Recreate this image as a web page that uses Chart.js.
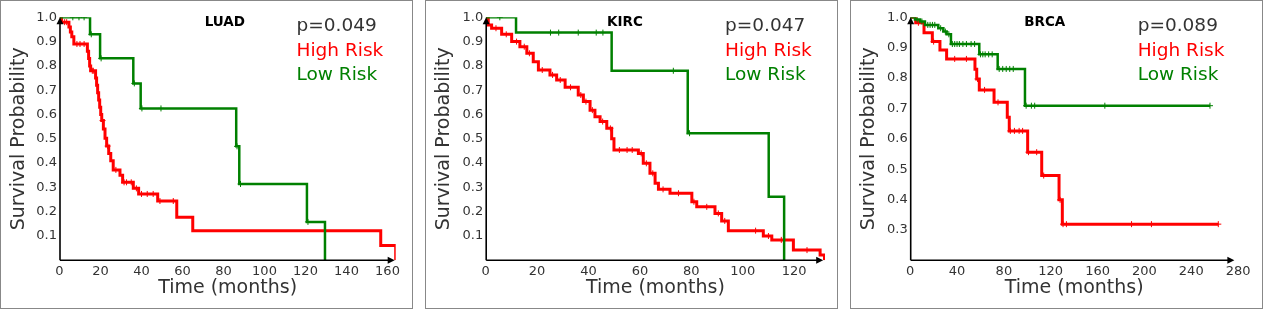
<!DOCTYPE html>
<html>
<head>
<meta charset="utf-8">
<script src="https://cdn.jsdelivr.net/npm/chart.js@4/dist/chart.umd.min.js"></script>
<style>
  body { margin: 0; background: #fff; width: 1264px; height: 310px; position: relative; overflow: hidden; }
  .panel { position: absolute; top: 0; width: 413px; height: 309px; box-sizing: border-box; border: 1px solid #888; }
  .panel canvas { display: block; }
</style>
</head>
<body>
<div class="panel" style="left:0"><canvas id="luad" width="411" height="307"></canvas></div>
<div class="panel" style="left:425px"><canvas id="kirc" width="411" height="307"></canvas></div>
<div class="panel" style="left:850px"><canvas id="brca" width="411" height="307"></canvas></div>
<script>
// LUAD
const luadHighTime = [0, 1, 4.6, 5.3, 6.0, 7.0, 13.6, 14.2, 14.7, 15.2, 17.6, 18.1, 18.6, 19.1, 19.6, 20.1, 20.6, 21.4, 22.2, 23.0, 24.0, 25.0, 26.2, 29.5, 30.8, 36.0, 38.6, 47.9, 57.2, 65.0, 156.7, 164.0];
const luadHighSurv = [1, 0.98, 0.96, 0.94, 0.92, 0.89, 0.86, 0.83, 0.80, 0.78, 0.75, 0.72, 0.69, 0.66, 0.63, 0.60, 0.575, 0.54, 0.502, 0.47, 0.44, 0.41, 0.372, 0.35, 0.321, 0.296, 0.273, 0.244, 0.177, 0.122, 0.061, 0];
const luadHighCensor = [2.5, 3.5, 8.5, 10, 12, 16, 16.5, 21, 23.5, 27.5, 31.5, 32.7, 35, 37.5, 40, 42.8, 45.7, 49, 55.5];
const luadLowTime = [0, 14.9, 19.8, 36.0, 39.6, 86.2, 87.7, 120.7, 129.5];
const luadLowSurv = [1, 0.93, 0.831, 0.728, 0.625, 0.469, 0.314, 0.158, 0];
const luadLowCensor = [6.5, 9.5, 12, 15.5, 20.3, 36.5, 40.2, 49.5, 86.6, 88.3, 121.2];

// KIRC
const kircHighTime = [0, 1.0, 2.3, 6.2, 10.1, 13.3, 16.0, 18.5, 20.5, 25.0, 27.6, 30.9, 36.0, 38.0, 40.6, 42.5, 44.5, 47.1, 49.0, 49.9, 59.4, 61.3, 63.9, 65.9, 67.2, 71.7, 80.2, 82.1, 89.2, 91.8, 94.4, 108.0, 111.3, 119.7, 130.1, 131.8];
const kircHighSurv = [1, 0.968, 0.955, 0.93, 0.9, 0.879, 0.852, 0.817, 0.783, 0.763, 0.742, 0.712, 0.68, 0.653, 0.618, 0.591, 0.571, 0.543, 0.5, 0.454, 0.44, 0.399, 0.358, 0.317, 0.292, 0.276, 0.241, 0.22, 0.193, 0.162, 0.122, 0.1, 0.084, 0.042, 0.022, 0];
const kircHighCensor = [4, 8, 12, 15, 17, 22, 26, 29, 33, 37, 39, 41.5, 45.5, 48.5, 52, 55, 57, 60.5, 62.5, 65, 69, 75, 81, 86, 90.5, 93, 105, 110, 115, 125];
const kircLowTime = [0, 11.8, 49.0, 78.6, 110.1, 116.1];
const kircLowSurv = [1, 0.937, 0.78, 0.523, 0.262, 0];
const kircLowCensor = [5.5, 25.2, 28.4, 36, 43, 45.6, 73, 79.3];

// BRCA
const brcaHighTime = [0, 4.7, 11.8, 18.9, 25.4, 31.1, 55.3, 56.8, 59.0, 71.6, 82.9, 84.6, 100.3, 112.3, 127.1, 129.9, 263.1];
const brcaHighSurv = [1, 0.982, 0.949, 0.92, 0.892, 0.863, 0.829, 0.797, 0.761, 0.72, 0.671, 0.626, 0.556, 0.479, 0.399, 0.319, 0.319];
const brcaHighCensor = [7, 20, 38, 48, 57.5, 63.5, 75, 85.5, 89, 93, 96, 101, 108, 114, 128, 130.5, 133.4, 189, 206, 263.1];
const brcaLowTime = [0, 4.1, 8.4, 12.6, 24.0, 28.3, 31.1, 34.8, 59.0, 74.7, 98.0, 256.0];
const brcaLowSurv = [1, 0.993, 0.986, 0.975, 0.964, 0.953, 0.944, 0.912, 0.878, 0.83, 0.709, 0.709];
const brcaLowCensor = [6, 10, 15, 17, 19, 21, 26, 30, 33, 36, 38, 40, 42, 45, 48, 52, 55, 60, 62, 64, 67, 70, 76, 79, 82, 85, 88, 99, 103.5, 106.3, 166.2, 256];

// ticks
const luadXTicks = [0, 20, 40, 60, 80, 100, 120, 140, 160];
const kircXTicks = [0, 20, 40, 60, 80, 100, 120];
const brcaXTicks = [0, 40, 80, 120, 160, 200, 240, 280];
const fullYTicks = [0.1, 0.2, 0.3, 0.4, 0.5, 0.6, 0.7, 0.8, 0.9, 1.0];
const brcaYTicks = [0.3, 0.4, 0.5, 0.6, 0.7, 0.8, 0.9, 1.0];

const RED = '#ff0000';
const GREEN = '#008000';
const FONT = 'DejaVu Sans';

function survAt(times, surv, t) {
  let s = surv[0];
  for (let i = 0; i < times.length; i++) {
    if (times[i] <= t) s = surv[i];
  }
  return s;
}

const axesArrows = {
  id: 'axesArrows',
  afterDatasetsDraw(chart, args, o) {
    const ctx = chart.ctx;
    const a = chart.chartArea;
    const x0 = a.left + 0.5;
    const y0 = a.bottom;
    const xTip = chart.scales.x.getPixelForValue(o.arrowAt);
    ctx.save();
    ctx.strokeStyle = '#000';
    ctx.fillStyle = '#000';
    ctx.lineWidth = 1.6;
    ctx.beginPath();
    ctx.moveTo(x0, y0);
    ctx.lineTo(x0, a.top + 5);
    ctx.moveTo(x0, y0);
    ctx.lineTo(xTip - 5, y0);
    ctx.stroke();
    ctx.beginPath();
    ctx.moveTo(x0, a.top);
    ctx.lineTo(x0 - 3.5, a.top + 7);
    ctx.lineTo(x0 + 3.5, a.top + 7);
    ctx.closePath();
    ctx.fill();
    ctx.beginPath();
    ctx.moveTo(xTip, y0);
    ctx.lineTo(xTip - 7, y0 - 3.5);
    ctx.lineTo(xTip - 7, y0 + 3.5);
    ctx.closePath();
    ctx.fill();
    ctx.restore();
  }
};

const panelText = {
  id: 'panelText',
  afterDraw(chart, args, o) {
    const ctx = chart.ctx;
    ctx.save();
    ctx.font = 'bold 13.5px "' + FONT + '"';
    ctx.fillStyle = '#000';
    ctx.textAlign = 'center';
    ctx.textBaseline = 'alphabetic';
    ctx.fillText(o.title, o.titleX, 25);
    ctx.font = '18.5px "' + FONT + '"';
    ctx.textAlign = 'left';
    ctx.fillStyle = '#333';
    ctx.fillText(o.pText, o.textX, 29.7);
    ctx.fillStyle = RED;
    ctx.fillText('High Risk', o.textX, 55);
    ctx.fillStyle = GREEN;
    ctx.fillText('Low Risk', o.textX, 79);
    ctx.restore();
  }
};

function makePanel(id, p) {
  const curve = (times, surv) => times.map((t, i) => ({ x: t, y: surv[i] }));
  const marks = (cens, times, surv) => cens.map(t => ({ x: t, y: survAt(times, surv, t) }));
  new Chart(document.getElementById(id), {
    type: 'scatter',
    data: {
      datasets: [
        { data: marks(p.lowC, p.lowT, p.lowS), pointStyle: 'cross', pointRadius: 3, borderColor: GREEN, borderWidth: 1, showLine: false },
        { data: curve(p.lowT, p.lowS), showLine: true, stepped: true, borderColor: GREEN, borderWidth: 2.5, pointRadius: 0 },
        { data: marks(p.highC, p.highT, p.highS), pointStyle: 'cross', pointRadius: 3, borderColor: RED, borderWidth: 1, showLine: false },
        { data: curve(p.highT, p.highS), showLine: true, stepped: true, borderColor: RED, borderWidth: 3, pointRadius: 0 }
      ]
    },
    options: {
      responsive: false,
      animation: false,
      layout: { padding: { top: 16.3, right: p.padRight, left: 0, bottom: 0 } },
      plugins: {
        legend: { display: false },
        tooltip: { enabled: false },
        axesArrows: { arrowAt: p.arrowAt },
        panelText: { title: p.title, pText: p.pText, titleX: p.titleX, textX: p.textX }
      },
      scales: {
        x: {
          type: 'linear', min: 0, max: p.xMax,
          grid: { display: false, drawTicks: false },
          border: { display: false },
          afterBuildTicks: s => { s.ticks = p.xTicks.map(v => ({ value: v })); },
          afterFit: s => { s.height = 47.7; },
          ticks: { color: '#333', font: { family: FONT, size: 13 }, padding: 4, maxRotation: 0, autoSkip: false },
          title: { display: true, text: 'Time (months)', color: '#333', font: { family: FONT, size: 19 }, padding: { top: 0, bottom: 9 } }
        },
        y: {
          type: 'linear', min: p.yMin, max: 1,
          grid: { display: false, drawTicks: false },
          border: { display: false },
          afterBuildTicks: s => { s.ticks = p.yTicks.map(v => ({ value: v })); },
          afterFit: s => { s.width = p.left; },
          ticks: { color: '#333', font: { family: FONT, size: 13 }, padding: 2.5, callback: v => v.toFixed(1) },
          title: { display: true, text: 'Survival Probability', color: '#333', font: { family: FONT, size: 19 }, padding: { top: 7, bottom: 0 } }
        }
      }
    },
    plugins: [axesArrows, panelText]
  });
}

makePanel('luad', {
  highT: luadHighTime, highS: luadHighSurv, highC: luadHighCensor,
  lowT: luadLowTime, lowS: luadLowSurv, lowC: luadLowCensor,
  xTicks: luadXTicks, yTicks: fullYTicks, xMax: 164, yMin: 0, arrowAt: 163.5,
  left: 58.5, padRight: 16.3, title: 'LUAD', pText: 'p=0.049', titleX: 223.8, textX: 295.5
});
makePanel('kirc', {
  highT: kircHighTime, highS: kircHighSurv, highC: kircHighCensor,
  lowT: kircLowTime, lowS: kircLowSurv, lowC: kircLowCensor,
  xTicks: kircXTicks, yTicks: fullYTicks, xMax: 132, yMin: 0, arrowAt: 131.3,
  left: 59.7, padRight: 12, title: 'KIRC', pText: 'p=0.047', titleX: 199, textX: 299
});
makePanel('brca', {
  highT: brcaHighTime, highS: brcaHighSurv, highC: brcaHighCensor,
  lowT: brcaLowTime, lowS: brcaLowSurv, lowC: brcaLowCensor,
  xTicks: brcaXTicks, yTicks: brcaYTicks, xMax: 280, yMin: 0.2, arrowAt: 276.8,
  left: 59.2, padRight: 23.9, title: 'BRCA', pText: 'p=0.089', titleX: 193.8, textX: 286.7
});
</script>
</body>
</html>
